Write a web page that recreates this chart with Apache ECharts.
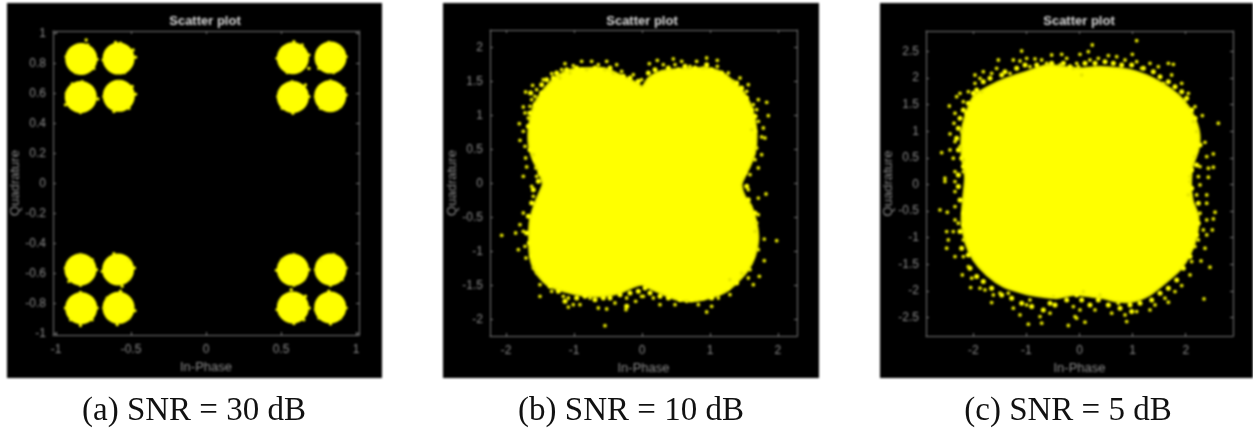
<!DOCTYPE html>
<html><head><meta charset="utf-8">
<style>
html,body{margin:0;padding:0;background:#fff;width:1253px;height:430px;overflow:hidden}
#plots,#caps{position:absolute;left:0;top:0;width:1253px;height:430px}
#plots canvas{filter:blur(1.1px)}
</style>
<script src="https://cdn.jsdelivr.net/npm/echarts@6/dist/echarts.min.js"></script>
</head><body>
<div id="plots"></div><div id="caps"></div>
<script>
const captions = ["(a) SNR = 30 dB","(b) SNR = 10 dB","(c) SNR = 5 dB"];
const xTicksA = [-1,-0.5,0,0.5,1];
const yTicksA = [-1,-0.8,-0.6,-0.4,-0.2,0,0.2,0.4,0.6,0.8,1];
const xTicksB = [-2,-1,0,1,2];
const yTicksB = [-2,-1.5,-1,-0.5,0,0.5,1,1.5,2];
const xTicksC = [-2,-1,0,1,2];
const yTicksC = [-2.5,-2,-1.5,-1,-0.5,0,0.5,1,1.5,2,2.5];

const clustersA = [[-0.832,0.829],[-0.583,0.831],[-0.835,0.576],[-0.581,0.583],
 [0.579,0.834],[0.830,0.838],[0.579,0.576],[0.828,0.581],
 [-0.837,-0.574],[-0.586,-0.574],[-0.832,-0.831],[-0.583,-0.829],
 [0.579,-0.576],[0.830,-0.574],[0.579,-0.826],[0.828,-0.826]];
const edgesA = [[-0.799,0.955],[-0.726,0.826],[-0.932,0.844],[-0.788,0.922],[-0.870,0.738],[-0.748,0.766],
 [-0.603,0.939],[-0.470,0.840],[-0.486,0.888],[-0.570,0.933],[-0.686,0.822],[-0.543,0.738],
 [-0.937,0.523],[-0.721,0.562],[-0.826,0.678],[-0.892,0.662],[-0.837,0.472],[-0.930,0.600],
 [-0.470,0.594],[-0.614,0.478],[-0.581,0.678],[-0.681,0.578],[-0.514,0.500],[-0.492,0.645],
 [0.586,0.944],[0.686,0.766],[0.541,0.738],[0.686,0.855],[0.474,0.833],[0.641,0.922],
 [0.819,0.939],[0.934,0.844],[0.741,0.811],[0.752,0.766],[0.897,0.899],[0.852,0.738],
 [0.579,0.467],[0.686,0.578],[0.479,0.578],[0.508,0.500],[0.663,0.656],[0.574,0.678],
 [0.830,0.682],[0.934,0.589],[0.730,0.578],[0.897,0.511],[0.763,0.500],[0.919,0.633],
 [-0.937,-0.564],[-0.730,-0.575],[-0.837,-0.475],[-0.837,-0.679],[-0.914,-0.653],[-0.759,-0.509],
 [-0.692,-0.586],[-0.477,-0.564],[-0.559,-0.686],[-0.614,-0.469],[-0.514,-0.637],[-0.514,-0.513],
 [-0.837,-0.947],[-0.726,-0.830],[-0.937,-0.830],[-0.759,-0.908],[-0.903,-0.908],[-0.837,-0.726],
 [-0.570,-0.719],[-0.474,-0.848],[-0.592,-0.941],[-0.681,-0.830],[-0.514,-0.897],[-0.659,-0.763],
 [0.470,-0.579],[0.686,-0.575],[0.586,-0.475],[0.586,-0.679],[0.652,-0.641],[0.508,-0.509],
 [0.934,-0.564],[0.730,-0.575],[0.830,-0.679],[0.852,-0.475],[0.763,-0.509],[0.908,-0.641],
 [0.568,-0.708],[0.688,-0.830],[0.474,-0.841],[0.586,-0.934],[0.652,-0.908],[0.663,-0.752],
 [0.934,-0.830],[0.730,-0.841],[0.830,-0.936],[0.819,-0.719],[0.897,-0.897],[0.752,-0.897]];

const outlineB = [[0,1.422],[0.093,1.554],[0.265,1.652],[0.510,1.686],[0.755,1.701],[0.951,1.701],[1.147,1.652],[1.319,1.529],[1.466,1.382],[1.588,1.186],[1.662,0.941],[1.686,0.696],[1.662,0.451],[1.588,0.255],[1.515,0.108],[1.466,-0.015],[1.515,-0.186],[1.613,-0.333],[1.686,-0.578],[1.711,-0.824],[1.662,-1.069],[1.564,-1.265],[1.417,-1.436],[1.245,-1.583],[1.000,-1.681],[0.755,-1.730],[0.510,-1.706],[0.265,-1.608],[0.069,-1.520],[0,-1.485],[-0.127,-1.520],[-0.324,-1.608],[-0.569,-1.657],[-0.863,-1.647],[-1.157,-1.583],[-1.402,-1.485],[-1.574,-1.289],[-1.647,-1.069],[-1.662,-0.775],[-1.647,-0.529],[-1.574,-0.284],[-1.500,-0.113],[-1.461,0],[-1.525,0.181],[-1.623,0.402],[-1.672,0.647],[-1.647,0.941],[-1.574,1.186],[-1.426,1.407],[-1.255,1.578],[-1.059,1.676],[-0.814,1.701],[-0.569,1.701],[-0.373,1.627],[-0.176,1.529],[-0.054,1.471]];
const fringeB = [[-1.711,1.348],[-1.608,1.446],[-1.745,1.128],[-1.720,1.040],[-1.804,0.883],[-1.745,0.770],[-1.794,0.638],[-1.720,0.549],[-1.711,0.378],[-1.598,0.427],[-1.696,0.246],[-1.745,0.108],[-1.549,0.108],[-1.559,0.231],[-1.622,1.236],[-1.549,1.383],[-1.451,1.530],[-1.328,1.618],[-1.181,1.677],[-1.132,1.765],[-1.010,1.736],[-0.887,1.799],[-0.740,1.799],[-0.642,1.750],[-0.519,1.799],[-0.372,1.750],[-0.299,1.652],[-0.127,1.603],[-0.005,1.530],[-1.671,0.966],[-1.647,1.138],[-1.573,1.285],[-1.206,1.554],[-1.059,1.628],[-0.814,1.677],[-0.544,1.677],[-0.421,1.628],
 [0.108,1.765],[0.226,1.814],[0.314,1.750],[0.461,1.834],[0.584,1.799],[0.804,1.799],[0.951,1.848],[1.108,1.814],[1.108,1.726],[1.270,1.628],[1.442,1.554],[1.564,1.456],[1.540,1.358],[1.711,1.236],[1.834,1.196],[1.687,1.089],[1.858,1.000],[1.711,0.917],[1.785,0.819],[1.760,0.687],[1.809,0.672],[1.687,0.525],[1.760,0.427],[1.662,0.353],[1.711,0.231],[1.589,0.133],[0.486,1.750],[0.706,1.726],[0.902,1.701],[1.344,1.505],[1.638,1.162],[1.613,0.795],
 [-2.063,-0.760],[-1.858,-0.725],[-1.818,-0.970],[-1.500,-1.657],[-0.544,-2.088],[-1.745,-0.431],[-1.622,-0.039],[-1.598,-0.186],[-1.794,-0.603],[-1.745,-0.701],[-1.720,-0.921],[-1.706,-1.093],[-1.549,-1.314],[-1.500,-1.485],[-1.328,-1.583],[-1.083,-1.681],[-1.083,-1.814],[-1.010,-1.779],[-0.912,-1.779],[-0.764,-1.681],[-0.642,-1.828],[-0.519,-1.843],[-0.397,-1.755],[-0.235,-1.853],[-0.225,-1.681],[-0.093,-1.730],[0.020,-1.657],[-1.598,-1.240],[-1.157,-1.657],
 [1.824,-0.152],[1.981,-0.838],[1.711,-0.211],[1.799,-0.814],[1.799,-1.132],[1.726,-1.363],[1.638,-1.485],[1.687,-0.578],[1.711,-0.456],[1.711,-0.970],[1.589,-1.265],[1.564,-0.088],[0.951,-1.887],[1.025,-1.804],[0.265,-1.779],[0.486,-1.779],[-0.005,-1.657],[0.167,-1.681],[0.829,-1.779],[1.294,-1.632],[1.294,-1.412],[1.466,-1.314],[1.564,-1.387],[0.657,-1.730],[1.123,-1.681],[1.662,-0.701]];
const bandB = [[-1.475,1.456],[-1.402,1.530],[-1.304,1.554],[-1.255,1.628],[-1.108,1.677],[-0.961,1.701],[-0.887,1.677],[-0.691,1.701],[-0.617,1.677],[-0.470,1.701],[-0.274,1.579],[-0.176,1.554],[-0.054,1.505],[-1.637,1.334],[-1.573,1.162],[-1.647,1.040],[-1.671,0.844],[-1.598,0.696],[-1.647,0.500],[-1.573,0.353],[-1.500,0.157],[-1.524,0.035],[-1.598,0.966],[-1.475,1.334],
 [0.192,1.677],[0.388,1.701],[0.535,1.677],[0.633,1.726],[0.780,1.701],[1.025,1.677],[1.172,1.628],[1.221,1.554],[1.393,1.481],[1.466,1.407],[1.540,1.260],[1.613,1.089],[1.662,0.991],[1.662,0.770],[1.638,0.598],[1.613,0.451],[1.540,0.280],[1.515,0.157],[0.094,1.628],[0.951,1.750],
 [-1.598,-0.088],[-1.622,-0.284],[-1.671,-0.480],[-1.696,-0.725],[-1.657,-0.872],[-1.622,-1.068],[-1.500,-1.265],[-1.426,-1.412],[-1.353,-1.510],[-1.230,-1.583],[-1.132,-1.730],[-0.961,-1.681],[-0.838,-1.657],[-0.691,-1.706],[-0.568,-1.681],[-0.470,-1.681],[-0.323,-1.632],[-0.176,-1.608],[-0.054,-1.583],[-0.225,-1.804],
 [1.540,-0.039],[1.564,-0.235],[1.662,-0.431],[1.638,-0.554],[1.662,-0.799],[1.638,-0.921],[1.613,-1.093],[1.540,-1.240],[1.442,-1.289],[1.393,-1.461],[1.270,-1.534],[1.123,-1.608],[1.025,-1.681],[0.902,-1.681],[0.731,-1.706],[0.559,-1.706],[0.388,-1.681],[0.265,-1.657],[0.118,-1.608],[0.045,-1.534]];

const outlineC = [[0.009,2.183],[0.386,2.215],[0.763,2.183],[1.077,2.121],[1.390,1.996],[1.704,1.808],[1.955,1.588],[2.144,1.306],[2.257,0.962],[2.238,0.649],[2.130,0.335],[2.100,0.022],[2.130,-0.291],[2.238,-0.605],[2.206,-0.981],[2.081,-1.325],[1.893,-1.607],[1.610,-1.858],[1.328,-2.077],[1.014,-2.202],[0.700,-2.202],[0.449,-2.140],[0.198,-2.108],[-0.116,-2.077],[-0.430,-2.140],[-0.744,-2.108],[-1.058,-2.046],[-1.434,-1.920],[-1.748,-1.701],[-1.999,-1.419],[-2.156,-1.075],[-2.219,-0.667],[-2.188,-0.229],[-2.156,0.147],[-2.219,0.523],[-2.219,0.962],[-2.156,1.275],[-1.999,1.651],[-1.717,1.839],[-1.372,1.996],[-0.995,2.121],[-0.618,2.246],[-0.304,2.215]];
const fringeC = [[-1.089,2.509],[-1.528,2.340],[-0.335,2.447],[-1.246,2.340],[-1.120,2.321],[-0.995,2.371],[-0.838,2.359],[-0.712,2.340],[-0.524,2.434],[-0.241,2.371],[-0.053,2.277],[-1.560,2.183],[-1.811,2.121],[-1.968,2.058],[-1.968,1.901],[-1.873,1.995],[-2.093,1.745],[-2.250,1.713],[-2.313,1.651],[-2.451,1.475],[-2.187,1.557],[-2.344,1.338],[-2.363,1.150],[-2.438,0.949],[-2.595,0.598],[-2.438,0.648],[-2.344,0.805],[-2.187,0.460],[-2.376,0.492],[-2.533,0.116],[-2.344,0.053],[-2.344,0.241],[-2.187,0.241],[-2.219,0.993],[-1.654,2.089],[-1.308,2.089],[-0.932,2.215],[-0.618,2.277],[-1.842,1.745],[-2.250,0.711],[-0.116,2.183],[-0.367,2.246],
 [1.076,2.703],[0.241,2.622],[0.009,2.447],[0.166,2.497],[0.995,2.447],[0.543,2.422],[0.700,2.403],[0.354,2.371],[0.197,2.340],[0.857,2.340],[1.076,2.309],[-0.022,2.215],[1.327,2.277],[1.673,2.277],[1.767,2.259],[1.484,2.215],[1.735,2.058],[1.924,1.901],[1.579,1.901],[2.049,1.713],[1.987,1.588],[2.175,1.463],[2.313,1.294],[2.614,1.150],[2.144,1.181],[2.206,0.993],[2.363,0.792],[2.520,0.573],[2.395,0.523],[2.520,0.323],[2.426,0.304],[2.426,0.135],[2.269,0.335],[2.175,0.523],[2.238,0.147],[2.081,0.147],[0.041,2.058],[1.170,2.183],
 [-2.533,0.054],[-2.344,-0.134],[-2.627,-0.479],[-2.489,-0.523],[-2.344,-0.416],[-2.344,-0.667],[-2.501,-0.886],[-2.376,-0.886],[-2.470,-1.043],[-2.187,-1.043],[-2.501,-1.200],[-2.344,-1.356],[-2.187,-1.356],[-2.093,-1.544],[-2.206,-1.701],[-2.030,-1.763],[-2.049,-1.939],[-1.873,-1.951],[-1.779,-1.983],[-1.654,-2.221],[-1.622,-2.077],[-1.497,-2.045],[-1.340,-2.045],[-1.246,-2.327],[-1.120,-2.453],[-0.995,-2.265],[-0.963,-2.628],[-0.712,-2.609],[-0.743,-2.484],[-0.555,-2.421],[-0.210,-2.653],[-0.084,-2.484],[-0.116,-2.296],[-0.492,-2.108],[-0.932,-2.171],[-2.281,-0.730],
 [2.081,0.054],[2.269,-0.009],[2.395,-0.197],[2.049,-0.197],[2.206,-0.197],[2.395,-0.354],[2.552,-0.523],[2.269,-0.542],[2.395,-0.667],[2.520,-0.648],[2.501,-0.855],[2.332,-0.855],[2.395,-0.949],[2.238,-1.043],[2.363,-1.200],[2.175,-1.168],[2.288,-1.438],[2.112,-1.450],[2.081,-1.701],[2.457,-1.557],[2.344,-2.152],[1.924,-1.901],[1.798,-2.014],[1.673,-2.215],[1.610,-2.139],[1.422,-2.265],[1.327,-2.359],[1.076,-2.390],[0.888,-2.578],[0.857,-2.453],[0.606,-2.421],[0.292,-2.359],[0.103,-2.590],[0.009,-2.359],[-0.054,-2.515],[0.072,-2.014],[0.386,-2.077],[0.731,-2.233]];
const bandC = [[-1.811,1.933],[-1.685,1.995],[-1.465,2.058],[-1.403,2.121],[-1.183,2.183],[-1.026,2.246],[-0.806,2.246],[-0.524,2.277],[-0.304,2.277],[-0.178,2.215],[-1.999,1.713],[-2.093,1.526],[-2.187,1.400],[-2.250,1.244],[-2.281,1.056],[-2.313,0.868],[-2.281,0.648],[-2.219,0.492],[-2.187,0.335],[-2.281,0.178],[-1.936,1.776],[-2.124,1.338],
 [0.103,2.277],[0.292,2.277],[0.480,2.309],[0.637,2.277],[0.794,2.246],[0.982,2.246],[1.202,2.183],[1.390,2.121],[1.516,2.027],[1.673,1.933],[1.798,1.839],[1.924,1.745],[2.018,1.620],[2.112,1.400],[2.175,1.244],[2.112,1.024],[2.269,0.742],[2.144,0.617],[2.206,0.366],[2.112,0.272],
 [-2.281,-0.040],[-2.250,-0.291],[-2.187,-0.542],[-2.187,-0.761],[-2.250,-0.886],[-2.219,-1.199],[-2.093,-1.325],[-2.062,-1.575],[-1.936,-1.732],[-1.811,-1.826],[-1.654,-1.951],[-1.465,-2.077],[-1.277,-2.139],[-1.089,-2.233],[-0.900,-2.296],[-0.681,-2.359],[-0.461,-2.265],[-0.241,-2.171],[-0.053,-2.077],[-0.555,-2.233],
 [2.112,-0.072],[2.238,-0.354],[2.144,-0.573],[2.238,-0.730],[2.206,-0.949],[2.112,-1.168],[2.081,-1.356],[1.955,-1.575],[1.830,-1.795],[1.673,-1.951],[1.516,-2.045],[1.359,-2.171],[1.139,-2.233],[0.951,-2.265],[0.763,-2.327],[0.543,-2.265],[0.354,-2.171],[0.197,-2.265],[0.041,-2.171],[0.982,-2.390]];

const YEL = '#ffff00', AX = '#7a7a7a', TXT = '#8c8c8c', FONT = '"Liberation Sans",Arial,sans-serif';
const panels = [
 {bg:[7,3,375,375], grid:[53,31,306,304], xr:[-1.02,1.02], yr:[-1.01,1.015], xt:xTicksA, yt:yTicksA, tx:205},
 {bg:[443,3,376,375], grid:[490,30,307,306], xr:[-2.235,2.28], yr:[-2.24,2.26], xt:xTicksB, yt:yTicksB, tx:642},
 {bg:[880,3,373,375], grid:[926,31,307,305], xr:[-2.89,2.89], yr:[-2.85,2.885], xt:xTicksC, yt:yTicksC, tx:1079}
];
function axis(kind, p, gi, main){
  const r = kind==='x'?p.xr:p.yr, t = kind==='x'?p.xt:p.yt;
  return {
    type:'value', gridIndex:gi, min:r[0], max:r[1], splitLine:{show:false},
    position: kind==='x'?(main?'bottom':'top'):(main?'left':'right'),
    axisLine:{show:true,onZero:false,lineStyle:{color:AX,width:1}},
    axisTick:{show:true,inside:true,length:3,customValues:t,lineStyle:{color:AX,width:1}},
    axisLabel:{show:main,customValues:t,color:TXT,fontSize:12,fontFamily:FONT,margin:kind==='x'?9:7,hideOverlap:false,showMinLabel:true,showMaxLabel:true},
    name: main?(kind==='x'?'In-Phase':'Quadrature'):'',
    nameLocation:'middle', nameGap:kind==='x'?26:31,
    nameTextStyle:{color:TXT,fontSize:13,fontFamily:FONT}
  };
}
function blob(name, outline, gi){
  return {name, type:'custom', xAxisIndex:gi*2, yAxisIndex:gi*2, silent:true, animation:false, z:2,
    data:[0], clip:true,
    renderItem:(params,api)=>({type:'polygon',shape:{points:outline.map(q=>api.coord(q)),smooth:0.25},style:{fill:YEL,stroke:'#e6e600',lineWidth:2}})};
}
function dots(name, data, gi, size, color){
  return {name, type:'scatter', xAxisIndex:gi*2, yAxisIndex:gi*2, silent:true, animation:false, z:3,
    data, symbol:'circle', symbolSize:size, itemStyle:{color,opacity:1}};
}
const xAxes=[], yAxes=[], grids=[], titles=[], rects=[];
panels.forEach((p,i)=>{
  grids.push({left:p.grid[0],top:p.grid[1],width:p.grid[2],height:p.grid[3],show:false,containLabel:false});
  xAxes.push(axis('x',p,i,true),axis('x',p,i,false));
  yAxes.push(axis('y',p,i,true),axis('y',p,i,false));
  titles.push({text:'Scatter plot',left:p.tx,top:15,padding:0,textAlign:'center',textStyle:{color:'#d8d8d8',fontSize:13,fontWeight:'bold',fontFamily:FONT}});
  rects.push({type:'rect',z:-10,shape:{x:p.bg[0],y:p.bg[1],width:p.bg[2],height:p.bg[3]},style:{fill:'#000'}});
});
const chart = echarts.init(document.getElementById('plots'),null,{renderer:'canvas'});
chart.setOption({
  animation:false, backgroundColor:'#fff', grid:grids, xAxis:xAxes, yAxis:yAxes, title:titles, graphic:rects, tooltip:{show:false},
  series:[
    dots('Clusters 30 dB',clustersA,0,32,YEL),
    dots('Cluster edge 30 dB',edgesA,0,3.4,'#f4f400'),
    blob('Blob 10 dB',outlineB,1),
    dots('Band 10 dB',bandB,1,5,YEL),
    dots('Fringe 10 dB',fringeB,1,3.8,'#e8e800'),
    blob('Blob 5 dB',outlineC,2),
    dots('Band 5 dB',bandC,2,5,YEL),
    dots('Fringe 5 dB',fringeC,2,3.8,'#e8e800')
  ]
});
const capChart = echarts.init(document.getElementById('caps'),null,{renderer:'canvas'});
capChart.setOption({
  animation:false,
  title:captions.map((c,i)=>({text:c,left:[194,631,1068][i],top:395,padding:0,textAlign:'center',
    textStyle:{color:'#111',fontSize:33,fontWeight:'normal',fontFamily:'"Liberation Serif",serif'}}))
});
</script>
</body></html>
